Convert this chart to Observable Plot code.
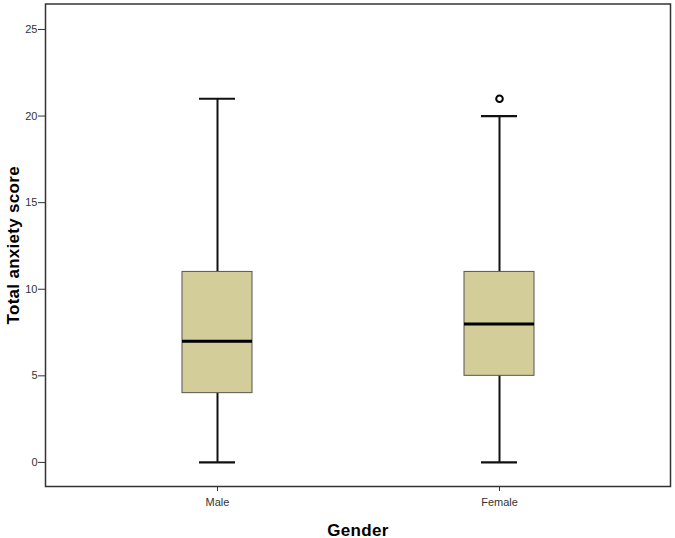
<!DOCTYPE html>
<html><head><meta charset="utf-8">
<script src="https://cdn.jsdelivr.net/npm/d3@7"></script>
<script src="https://cdn.jsdelivr.net/npm/@observablehq/plot@0.6"></script>
<style>
body{margin:0;background:#fff;overflow:hidden;}
svg{display:block;font-family:"Liberation Sans",Arial,sans-serif;}
svg [aria-label="y-axis label"] text, svg [aria-label="x-axis label"] text{font-weight:bold;fill:#000;letter-spacing:0.3px;}
svg [aria-label="y-axis label"]{font-size:17px;}
svg [aria-label="x-axis label"]{font-size:17px;}
</style>
</head><body>
<div id="chart"></div>
<script>
const groups = ["Male", "Female"];
const mins = [0, 0];
const q1s = [4, 5];
const medians = [7, 8];
const q3s = [11, 11];
const maxs = [21, 20];
const outlierGroups = ["Female"];
const outlierValues = [21];
const yTicks = [0, 5, 10, 15, 20, 25];

const stats = groups.map((g, i) => ({g, min: mins[i], q1: q1s[i], med: medians[i], q3: q3s[i], max: maxs[i]}));
const outliers = outlierGroups.map((g, i) => ({g, v: outlierValues[i]}));

const chart = Plot.plot({
  width: 675, height: 538,
  marginLeft: 45, marginRight: 5, marginTop: 3.5, marginBottom: 52,
  style: {fontSize: "11px", color: "#333", background: "#fff"},
  x: {type: "band", domain: groups, paddingInner: 0.752, paddingOuter: 0.484, label: "Gender"},
  y: {domain: [-1.39, 26.47], label: "Total anxiety score"},
  marks: [
    Plot.frame({stroke: "#333", strokeWidth: 1.5}),
    Plot.axisY({ticks: yTicks, tickSize: 7, tickPadding: 1, label: "Total anxiety score", labelAnchor: "center", labelArrow: "none", labelOffset: 39, stroke: "#333"}),
    Plot.axisX({tickSize: 5, tickPadding: 7, label: "Gender", labelAnchor: "center", labelArrow: "none", labelOffset: 49, stroke: "#333"}),
    Plot.ruleX(stats, {x: "g", y1: "min", y2: "q1", stroke: "#111", strokeWidth: 2}),
    Plot.ruleX(stats, {x: "g", y1: "q3", y2: "max", stroke: "#111", strokeWidth: 2}),
    Plot.tickY(stats, {x: "g", y: "min", stroke: "#111", strokeWidth: 2.2, insetLeft: 17, insetRight: 17}),
    Plot.tickY(stats, {x: "g", y: "max", stroke: "#111", strokeWidth: 2.2, insetLeft: 17, insetRight: 17}),
    Plot.barY(stats, {x: "g", y1: "q1", y2: "q3", fill: "#d3cd99", stroke: "#555", strokeWidth: 1}),
    Plot.tickY(stats, {x: "g", y: "med", stroke: "#000", strokeWidth: 3}),
    Plot.dot(outliers, {x: "g", y: "v", r: 3.3, stroke: "#000", strokeWidth: 2, fill: "#fff"})
  ]
});
document.getElementById("chart").append(chart);
</script>
</body></html>
